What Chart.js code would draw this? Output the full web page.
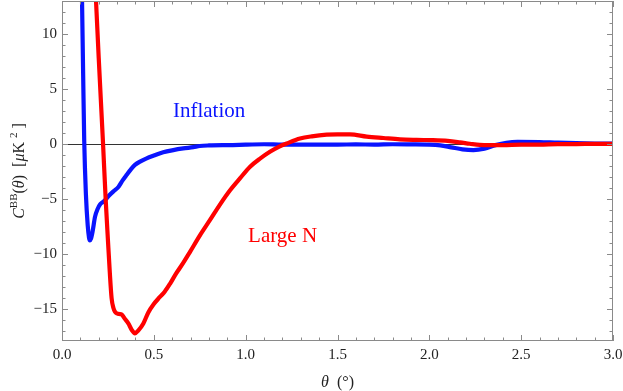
<!DOCTYPE html>
<html>
<head>
<meta charset="utf-8">
<script src="https://cdn.jsdelivr.net/npm/chart.js@4.4.1/dist/chart.umd.min.js"></script>
<style>
  html, body { margin: 0; padding: 0; background: #fff; }
</style>
</head>
<body>
<canvas id="chart" width="623" height="391"></canvas>
<script>
// ---- values (theta in degrees, C^BB in muK^2) ----
const inflationTheta = [0.100, 0.109, 0.115, 0.121, 0.130, 0.140, 0.147, 0.152, 0.158, 0.166, 0.180, 0.194, 0.207, 0.220, 0.234, 0.255, 0.280, 0.307, 0.330, 0.352, 0.375, 0.397, 0.430, 0.461, 0.500, 0.551, 0.606, 0.660, 0.715, 0.750, 0.800, 0.930, 1.000, 1.100, 1.200, 1.300, 1.400, 1.500, 1.600, 1.700, 1.800, 1.900, 2.000, 2.060, 2.120, 2.180, 2.240, 2.300, 2.360, 2.420, 2.480, 2.600, 2.700, 2.800, 2.900, 3.000];
const inflationValues = [22.0, 13.1, 6.5, 0.3, -4.5, -7.4, -8.5, -8.75, -8.6, -8.0, -6.6, -5.9, -5.5, -5.3, -5.1, -4.7, -4.3, -3.9, -3.3, -2.8, -2.3, -1.9, -1.55, -1.3, -1.05, -0.75, -0.55, -0.4, -0.28, -0.18, -0.13, -0.09, -0.05, -0.02, -0.05, -0.05, -0.05, -0.05, -0.03, -0.05, -0.02, -0.03, -0.05, -0.12, -0.3, -0.48, -0.55, -0.42, -0.1, 0.12, 0.2, 0.18, 0.12, 0.08, 0.05, 0.03];

const largeNTheta = [0.170, 0.185, 0.200, 0.223, 0.238, 0.250, 0.260, 0.270, 0.280, 0.289, 0.300, 0.312, 0.325, 0.343, 0.361, 0.380, 0.397, 0.415, 0.443, 0.470, 0.497, 0.533, 0.560, 0.588, 0.620, 0.660, 0.697, 0.751, 0.806, 0.860, 0.915, 0.970, 1.024, 1.080, 1.132, 1.180, 1.223, 1.296, 1.360, 1.441, 1.500, 1.568, 1.659, 1.750, 1.840, 1.930, 2.020, 2.100, 2.167, 2.220, 2.275, 2.330, 2.400, 2.500, 2.600, 2.700, 2.800, 2.900, 3.000];
const largeNValues = [18.5, 13.1, 7.8, 0.2, -5.1, -8.7, -11.6, -14.0, -14.9, -15.25, -15.4, -15.45, -15.5, -15.9, -16.3, -16.9, -17.2, -16.95, -16.3, -15.3, -14.6, -13.9, -13.4, -12.7, -11.8, -10.8, -9.8, -8.3, -6.9, -5.5, -4.2, -3.1, -2.06, -1.3, -0.7, -0.25, 0.05, 0.5, 0.7, 0.85, 0.88, 0.88, 0.68, 0.55, 0.43, 0.38, 0.35, 0.28, 0.15, 0.03, -0.08, -0.1, -0.1, -0.05, -0.05, 0.0, 0.0, 0.02, 0.02];

const xTickValues = [0, 0.5, 1.0, 1.5, 2.0, 2.5, 3.0];
const yTickValues = [-15, -10, -5, 0, 5, 10];
const seriesNames = ['Large N', 'Inflation'];

const serif = '"Liberation Serif", "DejaVu Serif", serif';
const BLUE = '#0a14ff';
const RED = '#ff0000';
const FRAME = '#8a8a8a';

const toPoints = (xs, ys) => xs.map((x, i) => ({ x, y: ys[i] }));
const minus = v => (v < 0 ? '\u2212' : '') + Math.abs(v);

// draw a run of [text, style] pieces; style: '' | 'i' (italic) | 's' (superscript)
function drawRich(ctx, pieces, size, x, y, align) {
  const fontFor = st => (st === 'i' ? 'italic ' : '') + (st === 's' ? Math.round(size * 0.68) : size) + 'px ' + serif;
  let total = 0;
  pieces.forEach(([t, st]) => { ctx.font = fontFor(st); total += ctx.measureText(t).width; });
  let cx = align === 'center' ? x - total / 2 : x;
  ctx.textBaseline = 'alphabetic';
  ctx.textAlign = 'left';
  pieces.forEach(([t, st]) => {
    ctx.font = fontFor(st);
    ctx.fillText(t, cx, st === 's' ? y - size * 0.42 : y);
    cx += ctx.measureText(t).width;
  });
}

// thin zero line, Mathematica-style frame with inward ticks, curve labels, axis titles
const framePlugin = {
  id: 'frame',
  beforeDatasetsDraw(chart) {
    const { ctx, chartArea: a, scales: { y } } = chart;
    const y0 = Math.round(y.getPixelForValue(0)) + 0.5;
    ctx.save();
    ctx.strokeStyle = '#333';
    ctx.lineWidth = 1;
    ctx.beginPath();
    ctx.moveTo(a.left, y0);
    ctx.lineTo(a.right, y0);
    ctx.stroke();
    ctx.restore();
  },
  afterDatasetsDraw(chart) {
    const { ctx, chartArea: a, scales: { x, y } } = chart;
    ctx.save();
    ctx.strokeStyle = FRAME;
    ctx.lineWidth = 1;
    ctx.strokeRect(a.left + 0.5, a.top + 0.5, a.right - a.left - 1, a.bottom - a.top - 1);
    ctx.beginPath();
    for (let k = 0; k <= 30; k++) {
      const px = Math.round(x.getPixelForValue(k / 10)) + 0.5;
      const len = k % 5 === 0 ? 6 : 3.5;
      ctx.moveTo(px, a.bottom); ctx.lineTo(px, a.bottom - len);
      ctx.moveTo(px, a.top); ctx.lineTo(px, a.top + len);
    }
    for (let k = -17; k <= 13; k++) {
      const py = Math.round(y.getPixelForValue(k)) + 0.5;
      const len = k % 5 === 0 ? 6 : 3.5;
      ctx.moveTo(a.left, py); ctx.lineTo(a.left + len, py);
      ctx.moveTo(a.right, py); ctx.lineTo(a.right - len, py);
    }
    ctx.stroke();

    // curve labels
    ctx.font = '21px ' + serif;
    ctx.textAlign = 'left';
    ctx.textBaseline = 'alphabetic';
    ctx.fillStyle = BLUE;
    ctx.fillText(seriesNames[1], x.getPixelForValue(0.604), y.getPixelForValue(2.45));
    ctx.fillStyle = RED;
    ctx.fillText(seriesNames[0], x.getPixelForValue(1.013), y.getPixelForValue(-8.9));

    // axis titles
    ctx.fillStyle = '#222';
    drawRich(ctx, [['\u03b8', 'i'], ['  (\u00b0)', '']], 16, (a.left + a.right) / 2, 387, 'center');
    ctx.translate(24, 171);
    ctx.rotate(-Math.PI / 2);
    drawRich(ctx, [['C', 'i'], ['BB', 's'], ['(', ''], ['\u03b8', 'i'], [')  [', ''], ['\u03bc', 'i'], ['K ', ''], ['2', 's'], [' ]', '']], 16, 0, 0, 'center');
    ctx.restore();
  }
};

new Chart(document.getElementById('chart'), {
  type: 'line',
  data: {
    datasets: [{
      label: seriesNames[0],
      data: toPoints(largeNTheta, largeNValues),
      borderColor: RED,
      borderWidth: 4.2,
      pointRadius: 0,
      cubicInterpolationMode: 'monotone'
    }, {
      label: seriesNames[1],
      data: toPoints(inflationTheta, inflationValues),
      borderColor: BLUE,
      borderWidth: 4.2,
      pointRadius: 0,
      cubicInterpolationMode: 'monotone'
    }]
  },
  options: {
    responsive: false,
    animation: false,
    layout: { padding: { top: 1, right: 10, left: 0, bottom: 0 } },
    plugins: { legend: { display: false }, tooltip: { enabled: false } },
    scales: {
      x: {
        type: 'linear',
        min: 0,
        max: 3,
        afterBuildTicks: s => { s.ticks = xTickValues.map(value => ({ value })); },
        afterFit: s => { s.height = 50; s.paddingLeft = 0; s.paddingRight = 0; },
        grid: { display: false, drawTicks: false },
        border: { display: false },
        ticks: {
          callback: v => v.toFixed(1),
          font: { family: serif, size: 15 },
          color: '#222',
          padding: 5,
          autoSkip: false,
          maxRotation: 0
        }
      },
      y: {
        type: 'linear',
        min: -17.9,
        max: 13.0,
        afterBuildTicks: s => { s.ticks = yTickValues.map(value => ({ value })); },
        afterFit: s => { s.width = 62; s.paddingTop = 0; s.paddingBottom = 0; },
        grid: { display: false, drawTicks: false },
        border: { display: false },
        ticks: {
          callback: v => minus(v),
          font: { family: serif, size: 15 },
          color: '#222',
          padding: 5
        }
      }
    }
  },
  plugins: [framePlugin]
});
</script>
</body>
</html>
